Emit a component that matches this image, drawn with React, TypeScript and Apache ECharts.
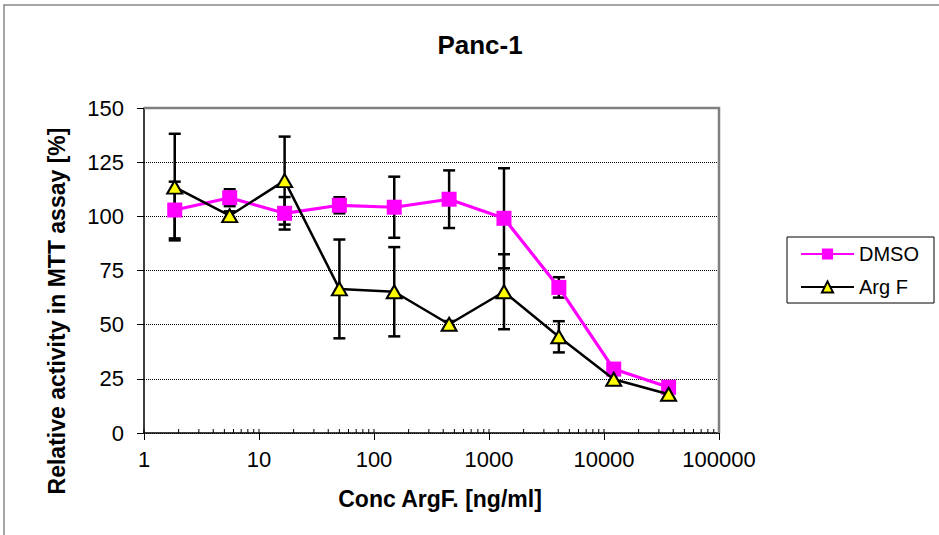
import React, { useEffect, useRef } from "react";
import * as echarts from "echarts";

const conc = [1.85, 5.56, 16.7, 50, 150, 450, 1350, 4050, 12150, 36450];
const dmso = [102.9, 108.6, 101.4, 105.1, 104.2, 107.9, 99.1, 67.2, 29.5, 21.1];
const dmsoErr = [13.1, 3.9, 7.5, 3.7, 14.1, 13.3, 23.1, 4.7, 2, 1.5];
const argF = [113.5, 100.3, 116.5, 66.5, 65.2, 50.2, 65.2, 44.4, 24.8, 17.9];
const argFErr = [24.6, 2, 20.3, 22.8, 20.6, 1.5, 17.3, 7.2, 2, 1.5];

const FONT = "'Liberation Sans', Arial, Helvetica, sans-serif";

// minor ticks of the log axis (2..9 x 10^k) plus decades
const logTicks: number[] = [];
for (let k = 0; k < 5; k++) {
  for (let m = 1; m <= 9; m++) logTicks.push(m * Math.pow(10, k));
}
logTicks.push(100000);

function errData(x: number[], y: number[], e: number[]) {
  return x.map((xv, i) => [xv, y[i] - e[i], y[i] + e[i]]);
}

function errRender(params: any, api: any) {
  const x = api.value(0);
  const lo = api.coord([x, api.value(1)]);
  const hi = api.coord([x, api.value(2)]);
  const hw = 6;
  const style = { stroke: "#000", lineWidth: 2.5 };
  return {
    type: "group",
    children: [
      { type: "line", shape: { x1: lo[0], y1: lo[1], x2: hi[0], y2: hi[1] }, style },
      { type: "line", shape: { x1: lo[0] - hw, y1: lo[1], x2: lo[0] + hw, y2: lo[1] }, style },
      { type: "line", shape: { x1: hi[0] - hw, y1: hi[1], x2: hi[0] + hw, y2: hi[1] }, style },
    ],
  };
}

function tickRender(params: any, api: any) {
  const p = api.coord([api.value(0), 0]);
  return {
    type: "line",
    shape: { x1: p[0], y1: p[1], x2: p[0], y2: p[1] - 4 },
    style: { stroke: "#000", lineWidth: 1 },
  };
}

export default function App() {
  const ref = useRef<HTMLDivElement>(null);
  useEffect(() => {
    if (!ref.current) return;
    const chart = echarts.init(ref.current, null, { renderer: "svg" });
    const gl = 144, gt = 108, gr = 719, gb = 433;
    chart.setOption({
      animation: false,
      backgroundColor: "#fff",
      textStyle: { fontFamily: FONT },
      grid: { left: gl, top: gt, width: gr - gl, height: gb - gt, containLabel: false },
      legend: {
        orient: "vertical",
        left: 787,
        top: 237,
        data: ["DMSO", "Arg F"],
        itemWidth: 53,
        itemHeight: 14,
        itemGap: 13,
        padding: [7, 15, 6, 13],
        borderColor: "#000",
        borderWidth: 1,
        textStyle: { fontSize: 20, color: "#000", fontFamily: FONT },
      },
      xAxis: {
        type: "log",
        logBase: 10,
        min: 1,
        max: 100000,
        splitNumber: 5,
        axisLine: { lineStyle: { color: "#000", width: 1.5 } },
        axisTick: { show: true, length: 7, lineStyle: { color: "#000", width: 1 } },
        axisLabel: {
          fontSize: 22,
          color: "#000",
          margin: 15,
          fontFamily: FONT,
          formatter: (v: number) => String(Math.round(v)),
        },
        splitLine: { show: false },
      },
      yAxis: {
        type: "value",
        min: 0,
        max: 150,
        interval: 25,
        axisLine: { show: true, lineStyle: { color: "#000", width: 1.5 } },
        axisTick: { show: true, length: 7, lineStyle: { color: "#000", width: 1 } },
        axisLabel: { fontSize: 22, color: "#000", margin: 20, fontFamily: FONT },
        splitLine: { show: true, lineStyle: { color: "#000", width: 1, type: [1, 1] } },
      },
      graphic: [
        {
          type: "rect",
          z: 100,
          silent: true,
          shape: { x: 4, y: 5, width: 1000, height: 600 },
          style: { fill: "none", stroke: "#888", lineWidth: 1.5 },
        },
        {
          type: "polyline",
          z: 100,
          silent: true,
          shape: { points: [[gl, gt], [gr, gt], [gr, gb]] },
          style: { fill: "none", stroke: "#808080", lineWidth: 2.5 },
        },
        {
          type: "text",
          x: 480,
          y: 45,
          style: {
            text: "Panc-1",
            fill: "#000",
            fontSize: 26,
            fontWeight: "bold",
            fontFamily: FONT,
            align: "center",
            verticalAlign: "middle",
          },
        },
        {
          type: "text",
          x: 440,
          y: 499,
          style: {
            text: "Conc ArgF. [ng/ml]",
            fill: "#000",
            fontSize: 23,
            fontWeight: "bold",
            fontFamily: FONT,
            align: "center",
            verticalAlign: "middle",
          },
        },
        {
          type: "text",
          x: 57,
          y: 311,
          rotation: Math.PI / 2,
          style: {
            text: "Relative activity in MTT assay [%]",
            fill: "#000",
            fontSize: 23,
            fontWeight: "bold",
            fontFamily: FONT,
            align: "center",
            verticalAlign: "middle",
          },
        },
      ],
      series: [
        {
          name: "ticks",
          type: "custom",
          renderItem: tickRender,
          data: logTicks.map((v) => [v]),
          z: 1,
          silent: true,
          clip: false,
        },
        {
          name: "DMSO err",
          type: "custom",
          renderItem: errRender,
          data: errData(conc, dmso, dmsoErr),
          z: 2,
          silent: true,
        },
        {
          name: "Arg F err",
          type: "custom",
          renderItem: errRender,
          data: errData(conc, argF, argFErr),
          z: 2,
          silent: true,
        },
        {
          name: "DMSO",
          type: "line",
          data: conc.map((x, i) => [x, dmso[i]]),
          symbol: "rect",
          symbolSize: 15,
          color: "#FF00FF",
          itemStyle: { color: "#FF00FF" },
          lineStyle: { color: "#FF00FF", width: 3.2 },
          z: 3,
        },
        {
          name: "Arg F",
          type: "line",
          data: conc.map((x, i) => [x, argF[i]]),
          symbol: "triangle",
          symbolSize: [15, 13],
          color: "#000",
          itemStyle: { color: "#FFFF00", borderColor: "#000", borderWidth: 2 },
          lineStyle: { color: "#000", width: 2.5 },
          z: 4,
        },
      ],
    });
    return () => chart.dispose();
  }, []);
  return (
    <div
      ref={ref}
      style={{ position: "absolute", left: 0, top: 0, width: 939, height: 535 }}
    />
  );
}
